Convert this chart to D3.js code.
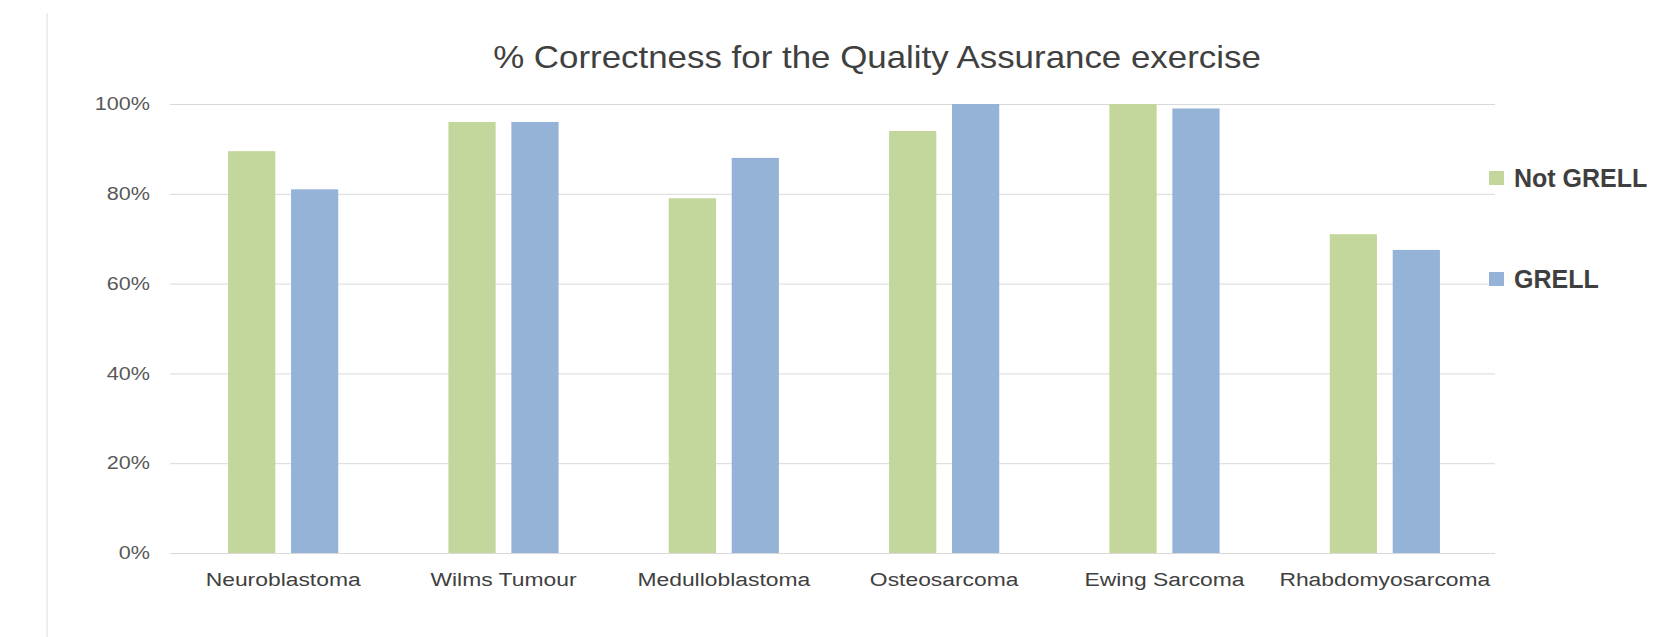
<!DOCTYPE html>
<html>

<head>
  <meta charset=utf-8>
  <title>% Correctness for the Quality Assurance exercise</title>
</head>

<script src="https://d3js.org/d3.v7.min.js"></script>

<style>
  body { margin: 0; background: #fff; }
  #chart { width: 1655px; height: 637px; }
  text { font-family: 'Liberation Sans', Arial, sans-serif; }
</style>

<body>
  <div id='chart'></div>
</body>

<script>

// data
var categories = ['Neuroblastoma', 'Wilms Tumour', 'Medulloblastoma', 'Osteosarcoma', 'Ewing Sarcoma', 'Rhabdomyosarcoma'];
var seriesNames = ['Not GRELL', 'GRELL'];
var notGrell = [89.5, 96, 79, 94, 100, 71];
var grell = [81, 96, 88, 100, 99, 67.5];
var yTicks = [0, 20, 40, 60, 80, 100];

var colors = ['#c3d69b', '#95b3d7'];

// widen text a bit, the source picture is stretched sideways
var stretch = function(sel, k) {
  sel.each(function() {
    var w = this.getComputedTextLength();
    d3.select(this)
      .attr('textLength', w * k)
      .attr('lengthAdjust', 'spacingAndGlyphs');
  });
};

function drawChart() {
  var width = 1655,
      height = 637;

  var svg = d3.select('#chart').append('svg')
    .attr('width', width)
    .attr('height', height);

  var x0 = d3.scaleBand()
    .domain(categories)
    .range([173, 1495])
    .paddingInner(0.5)
    .paddingOuter(0.25);

  var x1 = d3.scaleBand()
    .domain(seriesNames)
    .range([0, x0.bandwidth()])
    .paddingInner(0.25);

  var y = d3.scaleLinear()
    .domain([0, 100])
    .range([553, 104]);

  // left frame line
  svg.append('line')
    .attr('x1', 47).attr('x2', 47)
    .attr('y1', 13).attr('y2', height)
    .attr('stroke', '#dedede');

  // title
  svg.append('text')
    .attr('x', 877)
    .attr('y', 68)
    .attr('text-anchor', 'middle')
    .attr('font-size', 32)
    .attr('fill', '#404040')
    .text('% Correctness for the Quality Assurance exercise')
    .call(stretch, 1.09);

  // gridlines + y labels
  var yAxis = d3.axisLeft(y)
    .tickValues(yTicks)
    .tickSize(-(1495 - 170))
    .tickPadding(20)
    .tickFormat(function(d) { return d + '%'; });

  var gy = svg.append('g')
    .attr('transform', 'translate(170,0)')
    .call(yAxis);
  gy.select('.domain').remove();
  gy.selectAll('.tick line').attr('stroke', '#d9d9d9');
  gy.selectAll('.tick text')
    .attr('font-size', 18)
    .attr('fill', '#595959')
    .attr('font-family', 'Liberation Sans, Arial, sans-serif')
    .call(stretch, 1.2);

  // bars
  var rows = categories.map(function(c, i) {
    return { cat: c, values: [notGrell[i], grell[i]] };
  });

  svg.append('g')
    .selectAll('g')
    .data(rows)
    .enter().append('g')
      .attr('transform', function(d) { return 'translate(' + x0(d.cat) + ',0)'; })
    .selectAll('rect')
    .data(function(d) {
      return d.values.map(function(v, j) { return { key: seriesNames[j], value: v, j: j }; });
    })
    .enter().append('rect')
      .attr('x', function(d) { return x1(d.key); })
      .attr('y', function(d) { return y(d.value); })
      .attr('width', x1.bandwidth())
      .attr('height', function(d) { return y(0) - y(d.value); })
      .attr('fill', function(d) { return colors[d.j]; });

  // category labels
  var xAxis = d3.axisBottom(x0).tickSize(0).tickPadding(20);
  var gx = svg.append('g')
    .attr('transform', 'translate(0,' + y(0) + ')')
    .call(xAxis);
  gx.select('.domain').remove();
  gx.selectAll('.tick text')
    .attr('font-size', 18)
    .attr('fill', '#404040')
    .attr('font-family', 'Liberation Sans, Arial, sans-serif')
    .call(stretch, 1.27);

  // legend
  var legend = svg.append('g')
    .selectAll('g')
    .data(seriesNames)
    .enter().append('g')
      .attr('transform', function(d, i) { return 'translate(1489,' + (178 + i * 101) + ')'; });

  legend.append('rect')
    .attr('x', 0).attr('y', -7)
    .attr('width', 15).attr('height', 14)
    .attr('fill', function(d, i) { return colors[i]; });

  legend.append('text')
    .attr('x', 25)
    .attr('y', 9)
    .attr('font-size', 25)
    .attr('font-weight', 'bold')
    .attr('fill', '#3f3f3f')
    .text(function(d) { return d; });
}

drawChart();

</script>

</html>
